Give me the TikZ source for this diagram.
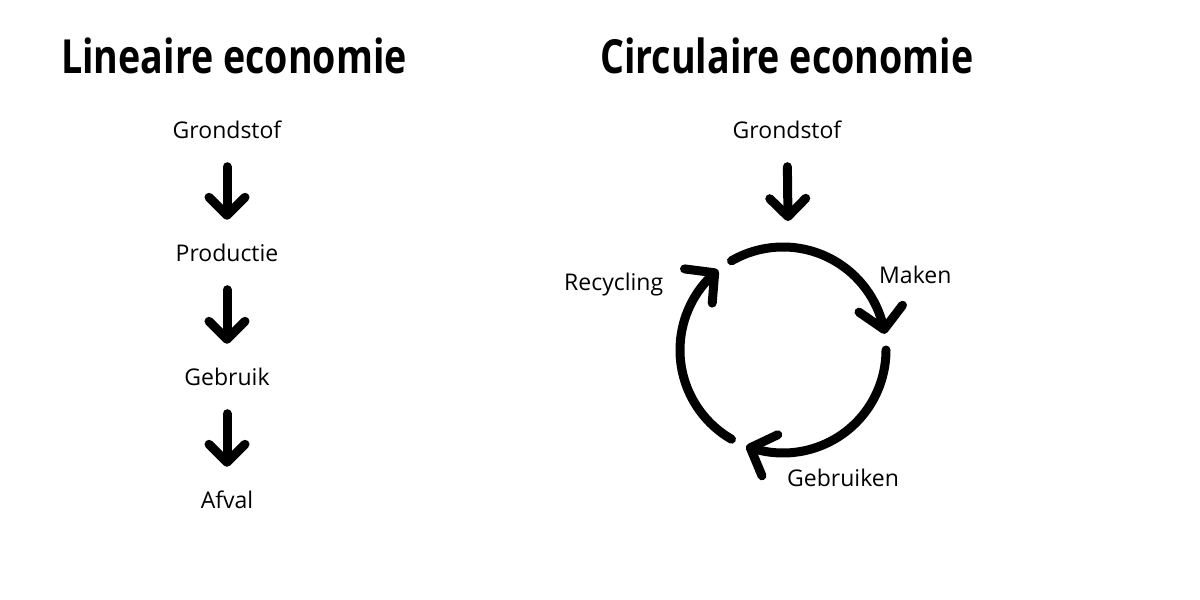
\documentclass[tikz,border=0pt]{standalone}
\usepackage{fontspec}
\setmainfont{Open Sans}
\newfontfamily\headfont{Open Sans}[FakeStretch=0.8]
\usetikzlibrary{arrows.meta,bending}
\begin{document}
\begin{tikzpicture}[x=1pt,y=-1pt,
  lbl/.style={inner sep=0pt, anchor=base, text height=17pt, text depth=5pt,
    font=\fontsize{23}{26}\selectfont},
  head/.style={inner sep=0pt, anchor=base west,
    font=\headfont\bfseries\fontsize{47}{50}\selectfont},
  flow/.style={line width=9pt, line cap=round,
    -{Straight Barb[length=18pt,width=36pt,round]}},
  cyc/.style={line width=9pt, line cap=round,
    -{Straight Barb[length=21pt,width=44pt,round]}},
  down/.style={flow, shorten <=23.5pt, shorten >=24pt},
]
\useasboundingbox[fill=white] (0,0) rectangle (1200,600);

% headings
\node[head] (hl) at (61,73) {Lineaire economie};
\node[head] (hc) at (600,73) {Circulaire economie};

% linear economy
\node[lbl] (g1) at (227,138) {Grondstof};
\node[lbl] (p1) at (227,261) {Productie};
\node[lbl] (u1) at (227,385) {Gebruik};
\node[lbl] (a1) at (227,508) {Afval};
\draw[down] (g1) -- (p1);
\draw[down] (p1) -- (u1);
\draw[down] (u1) -- (a1);

% circular economy
\node[lbl] (g2) at (787,138) {Grondstof};
\coordinate (cin) at (788,221);
\draw[flow, shorten <=23.5pt] (g2) -- (cin);

\coordinate (c) at (783,350);
\draw[cyc] ([shift={(-120:103)}]c) arc[start angle=-120, end angle=-9, radius=103];
\draw[cyc] ([shift={(0:103)}]c) arc[start angle=0, end angle=111, radius=103];
\draw[cyc] ([shift={(120:103)}]c) arc[start angle=120, end angle=231, radius=103];

\node[lbl, anchor=base west] (mk) at (879,283) {Maken};
\node[lbl, anchor=base west] (gb) at (787,486) {Gebruiken};
\node[lbl, anchor=base west] (rc) at (564,290) {Recycling};
\end{tikzpicture}
\end{document}
